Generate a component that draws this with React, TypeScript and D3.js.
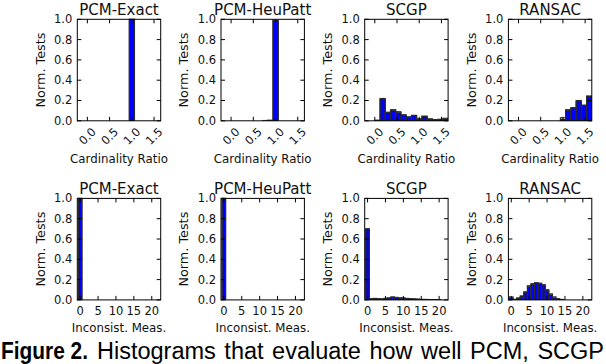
import React from "react";
import * as d3 from "d3";

// ---------- data ----------
const titles = ["PCM-Exact", "PCM-HeuPatt", "SCGP", "RANSAC"];
const ratioTicks = [0, 0.5, 1.0, 1.5];
const inconsTicks = [0, 5, 10, 15, 20];
const yTicks = [0, 0.2, 0.4, 0.6, 0.8, 1.0];

// Cardinality ratio histograms: 14 bins starting at 0
const ratioBinStart = 0;
const ratioBinWidth = 1.65 / 14;
const ratioExactBlue = [0, 0, 0, 0, 0, 0, 0, 0, 1.0, 0, 0, 0, 0, 0];
const ratioExactEdge = [0, 0, 0, 0, 0, 0, 0, 0, 1.0, 0, 0, 0, 0, 0];
const ratioHeuBlue = [0, 0, 0, 0, 0, 0, 0, 0.004, 0.99, 0, 0, 0, 0, 0];
const ratioHeuEdge = [0, 0, 0, 0, 0, 0, 0.003, 0.006, 0.99, 0, 0, 0, 0, 0];
const ratioScgpBlue = [0.004, 0.21, 0.08, 0.1, 0.08, 0.055, 0.035, 0.055, 0.015, 0.045, 0.015, 0.01, 0.012, 0.018];
const ratioScgpEdge = [0.006, 0.22, 0.085, 0.11, 0.09, 0.06, 0.04, 0.05, 0.02, 0.045, 0.02, 0.012, 0.015, 0.025];
const ratioRansacBlue = [0, 0, 0, 0, 0, 0, 0, 0, 0.015, 0.1, 0.125, 0.19, 0.15, 0.24];
const ratioRansacEdge = [0, 0, 0, 0, 0, 0, 0, 0, 0.03, 0.11, 0.13, 0.2, 0.155, 0.245];

// Inconsistent measurement histograms: unit bins starting at -0.5
const inconsBinStart = -0.5;
const inconsBinWidth = 1;
const inconsExactBlue = [1.0];
const inconsExactEdge = [1.0];
const inconsHeuBlue = [1.0];
const inconsHeuEdge = [1.0];
const inconsScgpBlue = [0.7, 0.01, 0.012, 0.01, 0.008, 0.012, 0.018, 0.025, 0.02, 0.018, 0.016, 0.012, 0.01, 0.008, 0.006, 0.004, 0.004, 0.003, 0.002, 0.002, 0.001];
const inconsScgpEdge = [0.7, 0.012, 0.015, 0.012, 0.01, 0.015, 0.02, 0.03, 0.025, 0.02, 0.02, 0.015, 0.012, 0.01, 0.008, 0.005, 0.005, 0.004, 0.003, 0.003, 0.002];
const inconsRansacBlue = [0.02, 0.004, 0.015, 0.035, 0.075, 0.13, 0.155, 0.165, 0.16, 0.145, 0.095, 0.05, 0.02, 0.008, 0.003];
const inconsRansacEdge = [0.03, 0.006, 0.02, 0.04, 0.08, 0.14, 0.16, 0.17, 0.165, 0.15, 0.1, 0.06, 0.03, 0.012, 0.005];

const topBlue = [ratioExactBlue, ratioHeuBlue, ratioScgpBlue, ratioRansacBlue];
const topEdge = [ratioExactEdge, ratioHeuEdge, ratioScgpEdge, ratioRansacEdge];
const botBlue = [inconsExactBlue, inconsHeuBlue, inconsScgpBlue, inconsRansacBlue];
const botEdge = [inconsExactEdge, inconsHeuEdge, inconsScgpEdge, inconsRansacEdge];

// ---------- layout ----------
const W = 606;
const H = 364;
const left0 = 77.3;
const step = 143.7;
const plotW = 83.4;
const plotH = 101.5;
const rowTops = [19.3, 198.4];
const FONT = "DejaVu Sans, sans-serif";
const BLUE = "#0000ff";
const INK = "#111";

type PanelProps = {
  idx: number;
  tx: number;
  ty: number;
  title: string;
  x: d3.ScaleLinear<number, number>;
  ticks: number[];
  fmt: (v: number) => string;
  rotate: boolean;
  xlabel: string;
  blue: number[];
  edge: number[];
  binStart: number;
  binWidth: number;
  row: number;
};

function Panel(p: PanelProps) {
  const y = d3.scaleLinear().domain([0, 1]).range([plotH, 0]);
  const clipId = `clip-${p.row}-${p.idx}`;
  const bars = (vals: number[]) =>
    vals.map((v, i) => {
      const x0 = p.x(p.binStart + i * p.binWidth);
      const x1 = p.x(p.binStart + (i + 1) * p.binWidth);
      return { x0, x1, y0: y(v), v };
    });
  return (
    <g transform={`translate(${p.tx},${p.ty})`}>
      <defs>
        <clipPath id={clipId}>
          <rect x={0} y={-2} width={plotW} height={plotH + 2} />
        </clipPath>
      </defs>
      <g clipPath={`url(#${clipId})`}>
        {bars(p.blue).map((b, i) =>
          b.v > 0 ? (
            <rect key={"b" + i} x={b.x0} y={b.y0} width={b.x1 - b.x0} height={plotH - b.y0}
              fill={BLUE} stroke="#1a1a1a" strokeWidth={0.9} />
          ) : null
        )}
        {bars(p.edge).map((b, i) =>
          b.v > 0 ? (
            <rect key={"e" + i} x={b.x0} y={b.y0} width={b.x1 - b.x0} height={plotH - b.y0}
              fill="none" stroke="#2a2a2a" strokeWidth={1.1} />
          ) : null
        )}
      </g>
      <rect x={0} y={0} width={plotW} height={plotH} fill="none" stroke="#000" strokeWidth={1} />
      {yTicks.map((v) => (
        <g key={"yt" + v}>
          <line x1={0} x2={4} y1={y(v)} y2={y(v)} stroke="#000" />
          <line x1={plotW - 4} x2={plotW} y1={y(v)} y2={y(v)} stroke="#000" />
          <text x={-5} y={y(v)} textAnchor="end" dominantBaseline="central" fontSize={11.5} fontFamily={FONT} fill={INK}>
            {d3.format(".1f")(v)}
          </text>
        </g>
      ))}
      {p.ticks.map((v) => (
        <g key={"xt" + v}>
          <line x1={p.x(v)} x2={p.x(v)} y1={plotH} y2={plotH - 4} stroke="#000" />
          <line x1={p.x(v)} x2={p.x(v)} y1={0} y2={4} stroke="#000" />
          {p.rotate ? (
            <text transform={`translate(${p.x(v)},${plotH + 15.5}) rotate(-45)`} textAnchor="middle"
              dominantBaseline="central" fontSize={11.5} fontFamily={FONT} fill={INK}>
              {p.fmt(v)}
            </text>
          ) : (
            <text x={p.x(v)} y={plotH + 11.5} textAnchor="middle" dominantBaseline="central" fontSize={11.5} fontFamily={FONT} fill={INK}>
              {p.fmt(v)}
            </text>
          )}
        </g>
      ))}
      <text x={plotW / 2} y={-4.6} textAnchor="middle" fontSize={15} fontFamily={FONT} fill={INK}>
        {p.title}
      </text>
      <text transform={`translate(-37.3,${plotH / 2}) rotate(-90)`} textAnchor="middle" dominantBaseline="central"
        fontSize={12.8} fontFamily={FONT} fill={INK}>
        Norm. Tests
      </text>
      <text x={plotW / 2} y={p.rotate ? plotH + 42.5 : plotH + 32} textAnchor="middle" fontSize={11.8} fontFamily={FONT} fill={INK}>
        {p.xlabel}
      </text>
    </g>
  );
}

export default function App() {
  const xTop = d3.scaleLinear().domain([-0.227, 1.65]).range([0, plotW]);
  const xBot = d3.scaleLinear().domain([-0.8, 22.5]).range([0, plotW]);
  return (
    <svg width={W} height={H} viewBox={`0 0 ${W} ${H}`}
      style={{ position: "absolute", left: 0, top: 0, background: "#fff" }}>
      <rect x={0} y={0} width={W} height={H} fill="#fff" />
      {titles.map((t, i) => (
        <Panel key={"top" + i} idx={i} row={0} tx={left0 + i * step} ty={rowTops[0]} title={t} x={xTop}
          ticks={ratioTicks} fmt={d3.format(".1f")} rotate={true} xlabel="Cardinality Ratio"
          blue={topBlue[i]} edge={topEdge[i]} binStart={ratioBinStart} binWidth={ratioBinWidth} />
      ))}
      {titles.map((t, i) => (
        <Panel key={"bot" + i} idx={i} row={1} tx={left0 + i * step} ty={rowTops[1]} title={t} x={xBot}
          ticks={inconsTicks} fmt={d3.format("d")} rotate={false} xlabel="Inconsist. Meas."
          blue={botBlue[i]} edge={botEdge[i]} binStart={inconsBinStart} binWidth={inconsBinWidth} />
      ))}
      <text x={1} y={359} fontSize={23.5} fontWeight="bold" fontFamily="Liberation Sans, Arial, sans-serif"
        textLength={87} lengthAdjust="spacingAndGlyphs">
        Figure 2.
      </text>
      <text x={97} y={359} fontSize={23.5} wordSpacing={2} fontFamily="Liberation Sans, Arial, sans-serif">
        Histograms that evaluate how well PCM, SCGP
      </text>
    </svg>
  );
}
